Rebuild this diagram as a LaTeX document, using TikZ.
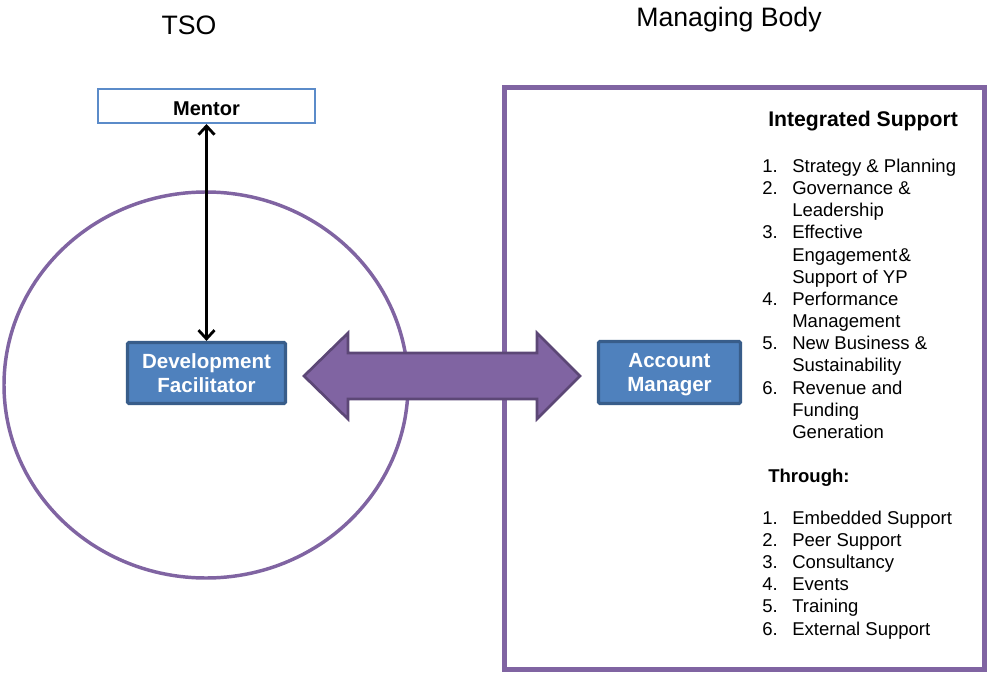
\documentclass[tikz,border=0pt]{standalone}
\usepackage{fontspec}
\setmainfont{Liberation Sans}
\usetikzlibrary{arrows.meta}
\definecolor{purp}{HTML}{8064A2}
\definecolor{purpdark}{HTML}{5C4776}
\definecolor{bluefill}{HTML}{4F81BD}
\definecolor{bluedark}{HTML}{385D8A}
\definecolor{mentorblue}{HTML}{5B8BC9}
\tikzset{
  header/.style={inner sep=0pt, anchor=base, font=\fontsize{20}{24}\selectfont},
  bluebox/.style={draw=bluedark, fill=bluefill, line width=2.4pt, rounded corners=1pt,
    text=white, align=center, inner sep=0pt, text depth=0pt, font=\bfseries\fontsize{15.4}{18}\selectfont},
  mentorbox/.style={draw=mentorblue, fill=white, line width=1.5pt, inner sep=0pt,
    text height=15pt, text depth=0pt, font=\bfseries\fontsize{15}{18}\selectfont},
  listitem/.style={inner sep=0pt, anchor=base west, font=\fontsize{13.9}{16.5}\selectfont},
  listhead/.style={inner sep=0pt, anchor=base west},
  vconn/.style={line width=2.1pt, {Straight Barb[length=6.5pt,width=12pt]}-{Straight Barb[length=6.5pt,width=12pt]}},
  bigarrow/.style={fill=purp, draw=purpdark, line width=2pt, line join=miter},
}
\begin{document}
\begin{tikzpicture}[x=0.75pt, y=-0.75pt]
\useasboundingbox (0,0) rectangle (987,673);
% headers
\node[header] (tso) at (189,35) {TSO};
\node[header] (mb) at (729,27) {Managing Body};
% TSO ellipse
\draw[purp, line width=2.6pt] (206,385) ellipse [x radius=151.5pt, y radius=144.75pt];
% Managing body frame
\draw[purp, line width=3.4pt] (504.5,87.5) rectangle (984.5,669.5);
% big double block arrow
\draw[bigarrow] (304,376) -- (348,333) -- (348,353) -- (537,353) -- (537,333) -- (580,376)
  -- (537,419) -- (537,399) -- (348,399) -- (348,419) -- cycle;
% boxes
\node[mentorbox, minimum width=162.75pt, minimum height=25.5pt] (mentor) at (206.5,106) {Mentor};
\node[bluebox, minimum width=118.5pt, minimum height=45.75pt] (dev) at (206.5,373) {Development\\Facilitator};
\node[bluebox, minimum width=106.5pt, minimum height=46.5pt] (acc) at (669.5,372.5) {Account\\Manager};
% connector
\draw[vconn] (mentor.south) -- (dev.north);
% list 1
\node[listhead, font=\bfseries\fontsize{15.9}{18}\selectfont] (ishead) at (768,127) {Integrated Support};
\foreach \k/\n/\t in {0/1./Strategy \& Planning, 1/2./Governance \&, 2//Leadership,
  3/3./Effective, 4//Engagement\hspace{1pt}\&, 5//Support of YP, 6/4./Performance,
  7//Management, 8/5./New Business \&, 9//Sustainability, 10/6./Revenue and,
  11//Funding, 12//Generation}
  \node[listitem] (ia\k) at (762,172.5+22.15*\k) {\makebox[22.5pt][l]{\n}\t};
% list 2
\node[listhead, font=\bfseries\fontsize{13.9}{16.5}\selectfont] (thhead) at (768,482) {Through:};
\foreach \k/\n/\t in {0/1./Embedded Support, 1/2./Peer Support, 2/3./Consultancy,
  3/4./Events, 4/5./Training, 5/6./External Support}
  \node[listitem] (ib\k) at (762,524+22.2*\k) {\makebox[22.5pt][l]{\n}\t};
\end{tikzpicture}
\end{document}
